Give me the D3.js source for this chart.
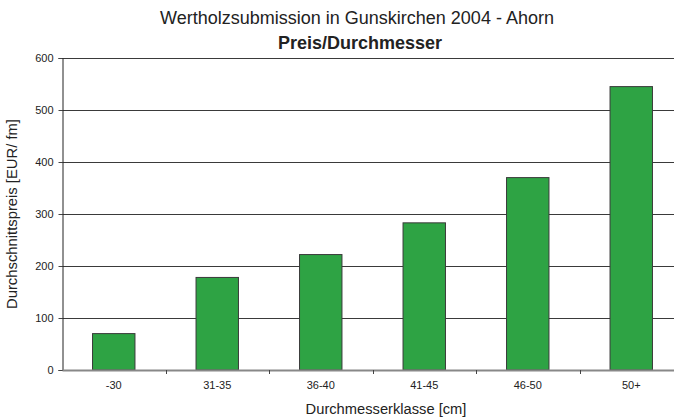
<!DOCTYPE html>
<html>
<head>
<meta charset="utf-8">
<script src="https://cdn.jsdelivr.net/npm/d3@7"></script>
<style>
  body { margin: 0; background: #fff; }
  svg { display: block; font-family: "Liberation Sans", Arial, sans-serif; }
</style>
</head>
<body>
<div id="chart"></div>
<script>
const categories = ["-30", "31-35", "36-40", "41-45", "46-50", "50+"];
const prices = [70, 178, 222, 283, 370, 545];
const yTicks = [0, 100, 200, 300, 400, 500, 600];

const width = 674;
const height = 418;
const margin = { top: 58, right: -9, bottom: 48, left: 62 };

const svg = d3.select("#chart").append("svg")
    .attr("width", width)
    .attr("height", height);

const x = d3.scaleBand()
    .domain(categories)
    .range([margin.left, width - margin.right])
    .paddingInner(0.59)
    .paddingOuter(0.295);

const xb = d3.scaleBand()
    .domain(categories)
    .range([margin.left, width - margin.right]);

const y = d3.scaleLinear()
    .domain([0, 600])
    .range([height - margin.bottom, margin.top]);

// gridlines
svg.append("g")
    .selectAll("line")
    .data(yTicks.filter(d => d > 0))
    .enter()
    .append("line")
    .attr("x1", margin.left)
    .attr("x2", width - margin.right)
    .attr("y1", d => Math.round(y(d)) + 0.5)
    .attr("y2", d => Math.round(y(d)) + 0.5)
    .attr("stroke", "#3a3a3a")
    .attr("stroke-width", 1);

// bars
svg.append("g")
    .selectAll("rect")
    .data(prices)
    .enter()
    .append("rect")
    .attr("x", (d, i) => x(categories[i]))
    .attr("width", x.bandwidth())
    .attr("y", d => y(d))
    .attr("height", d => y(0) - y(d))
    .attr("fill", "#2ea344")
    .attr("stroke", "#3a3a3a")
    .attr("stroke-width", 1);

// y axis
const yAxis = svg.append("g")
    .attr("transform", `translate(${margin.left + 0.5},0)`)
    .call(d3.axisLeft(y).tickValues(yTicks).tickSize(4).tickPadding(5));
yAxis.select(".domain").attr("stroke", "#222");
yAxis.selectAll(".tick line").attr("stroke", "#444");
yAxis.selectAll("text").attr("font-size", 11).attr("fill", "#222")
    .attr("font-family", "Liberation Sans, Arial, sans-serif");

// x axis
const xAxis = svg.append("g")
    .attr("transform", `translate(0,${y(0)})`)
    .call(d3.axisBottom(xb).tickSize(0).tickPadding(11));
xAxis.select(".domain").attr("stroke", "#888").attr("stroke-width", 2);
xAxis.selectAll("text").attr("font-size", 11).attr("fill", "#222")
    .attr("font-family", "Liberation Sans, Arial, sans-serif");

// separator ticks between classes
svg.append("g")
    .selectAll("line")
    .data(categories.slice(1))
    .enter()
    .append("line")
    .attr("x1", d => Math.round(xb(d)) + 0.5)
    .attr("x2", d => Math.round(xb(d)) + 0.5)
    .attr("y1", y(0))
    .attr("y2", y(0) + 4)
    .attr("stroke", "#444");

// titles
svg.append("text")
    .attr("x", 357).attr("y", 24)
    .attr("text-anchor", "middle")
    .attr("font-size", 18).attr("fill", "#222")
    .text("Wertholzsubmission in Gunskirchen 2004 - Ahorn");

svg.append("text")
    .attr("x", 360).attr("y", 49)
    .attr("text-anchor", "middle")
    .attr("font-size", 18).attr("font-weight", "bold").attr("fill", "#222")
    .text("Preis/Durchmesser");

svg.append("text")
    .attr("x", 386).attr("y", 414)
    .attr("text-anchor", "middle")
    .attr("font-size", 14.7).attr("fill", "#222")
    .text("Durchmesserklasse [cm]");

svg.append("text")
    .attr("transform", "translate(17,214) rotate(-90)")
    .attr("text-anchor", "middle")
    .attr("font-size", 14.8).attr("fill", "#222")
    .text("Durchschnittspreis [EUR/ fm]");
</script>
</body>
</html>
